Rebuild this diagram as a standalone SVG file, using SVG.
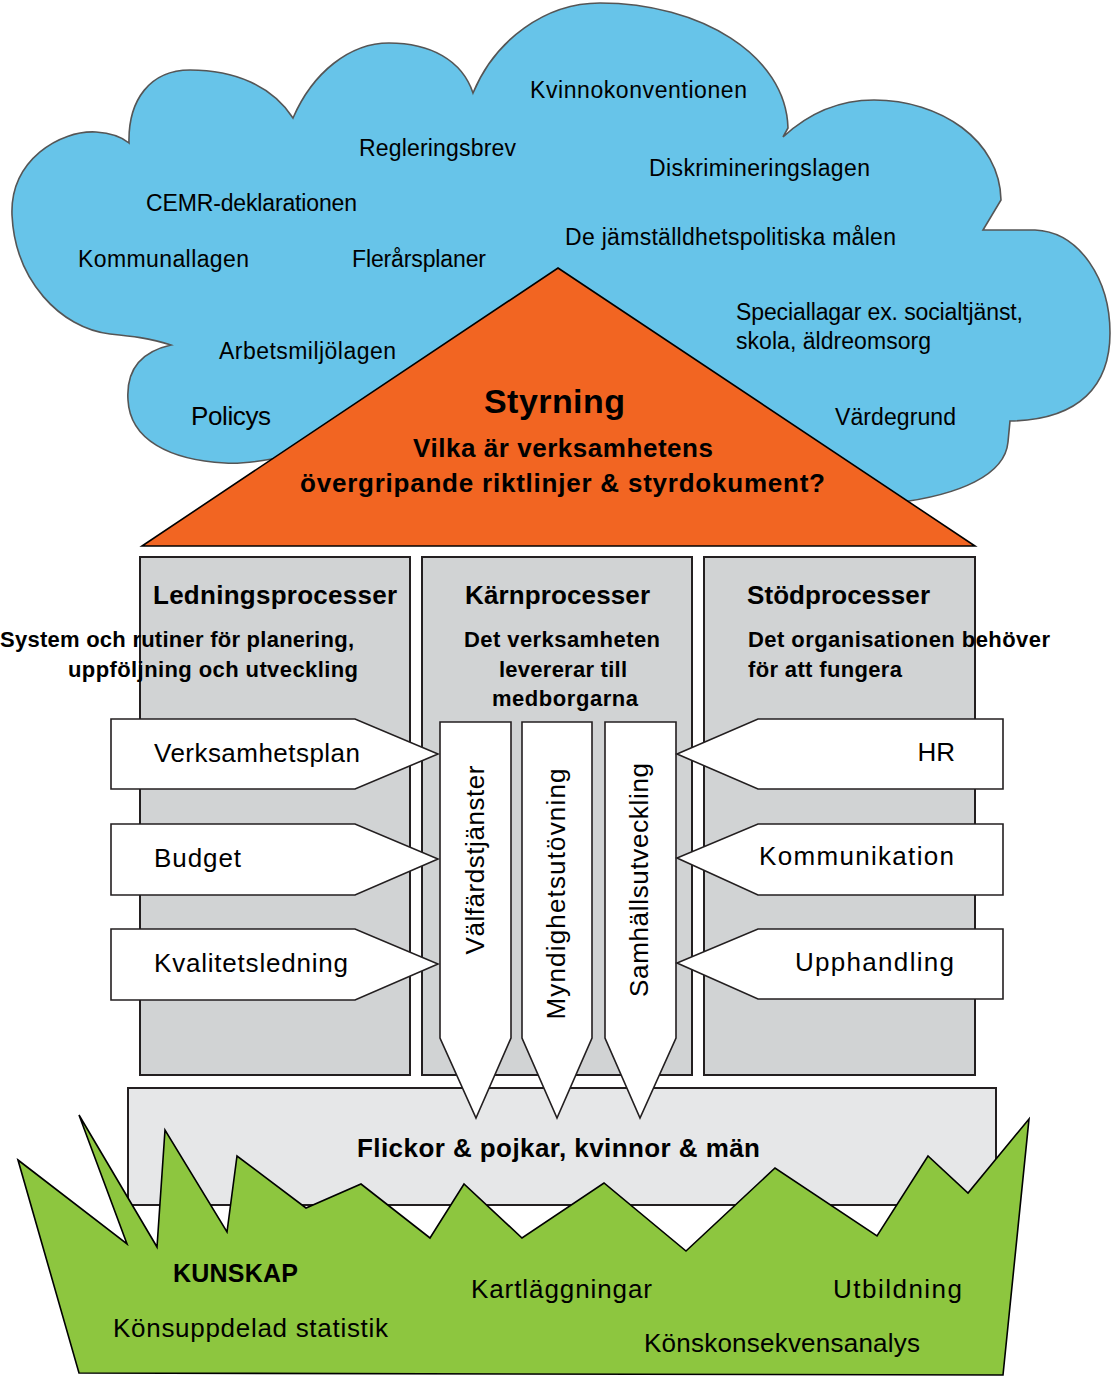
<svg xmlns="http://www.w3.org/2000/svg" width="1113" height="1376" viewBox="0 0 1113 1376">
<style>
text{font-family:"Liberation Sans",Arial,sans-serif;fill:#000}
.c{font-size:23px}
.b{font-weight:bold}
.lab{font-size:26px}
.sub{font-size:22px;font-weight:bold}
.hd{font-size:26px;font-weight:bold}
.col{fill:#D1D3D4;stroke:#231F20;stroke-width:2}
.arr{fill:#FFFFFF;stroke:#231F20;stroke-width:1.6;stroke-linejoin:miter}
</style>
<rect width="1113" height="1376" fill="#FFFFFF"/>
<g id="cloud">
<path d="M129,143 C128,100 150,70 190,70 C235,70 272,86 293,118 C313,72 350,43 389,43 C430,43 462,60 473,93 C495,40 545,3 600,3 C700,3 786,55 788,128 L783,137 C810,112 840,100 874,100 C940,100 1000,140 1001,200 L983,230 L1035,230 C1080,232 1110,280 1110,333 C1110,385 1080,420 1010,421 L1008,442 C1005,475 960,495 895,503 L600,480 L272,459 C255,462 240,464 225,463 C170,460 130,440 128,400 C126,370 140,352 171,345 C150,338 130,336 110,334 C60,328 15,280 12,215 C10,160 60,130 96,132 C110,133 122,137 129,143 Z" fill="#67C4E9" stroke="#555555" stroke-width="1.6"/>
<text class="c" x="530" y="98" textLength="217">Kvinnokonventionen</text>
<text class="c" x="359" y="156" textLength="157">Regleringsbrev</text>
<text class="c" x="649" y="176" textLength="221">Diskrimineringslagen</text>
<text class="c" x="146" y="211" textLength="211">CEMR-deklarationen</text>
<text class="c" x="565" y="245" textLength="331">De jämställdhetspolitiska målen</text>
<text class="c" x="78" y="267" textLength="171">Kommunallagen</text>
<text class="c" x="352" y="267" textLength="134">Flerårsplaner</text>
<text class="c" x="736" y="320" textLength="287">Speciallagar ex. socialtjänst,</text>
<text class="c" x="736" y="349" textLength="195">skola, äldreomsorg</text>
<text class="c" x="219" y="359" textLength="177">Arbetsmiljölagen</text>
<text class="lab" x="191" y="425" textLength="80">Policys</text>
<text class="c" x="835" y="425" textLength="121">Värdegrund</text>
</g>
<g id="styrning">
<polygon points="558,268 975,546 142,546" fill="#F26522" stroke="#000" stroke-width="1.6"/>
<text class="b" x="484" y="413" font-size="34" textLength="141">Styrning</text>
<text class="b" x="413" y="457" font-size="26" textLength="300">Vilka är verksamhetens</text>
<text class="b" x="300" y="492" font-size="26" textLength="525">övergripande riktlinjer &amp; styrdokument?</text>
</g>
<g id="ledningsprocesser">
<rect class="col" x="140" y="557" width="270" height="518"/>
<text class="hd" x="153" y="604" textLength="244">Ledningsprocesser</text>
<text class="sub" x="0" y="647" textLength="354">System och rutiner för planering,</text>
<text class="sub" x="68" y="677" textLength="290">uppföljning och utveckling</text>
</g>
<g id="karnprocesser">
<rect class="col" x="422" y="557" width="270" height="518"/>
<text class="hd" x="465" y="604" textLength="185">Kärnprocesser</text>
<text class="sub" x="464" y="647" textLength="196">Det verksamheten</text>
<text class="sub" x="499" y="677" textLength="128">levererar till</text>
<text class="sub" x="492" y="706" textLength="146">medborgarna</text>
</g>
<g id="stodprocesser">
<rect class="col" x="704" y="557" width="271" height="518"/>
<text class="hd" x="747" y="604" textLength="183">Stödprocesser</text>
<text class="sub" x="748" y="647" textLength="302">Det organisationen behöver</text>
<text class="sub" x="748" y="677" textLength="154">för att fungera</text>
</g>
<g id="medborgare">
<rect x="128" y="1088" width="868" height="117" fill="#E6E7E8" stroke="#231F20" stroke-width="2"/>
<text class="b" x="357" y="1157" font-size="26" textLength="403">Flickor &amp; pojkar, kvinnor &amp; män</text>
</g>
<g id="valfardstjanster">
<polygon class="arr" points="440,722 511,722 511,1038 476,1118 440,1038"/>
<text class="lab" transform="translate(484,860) rotate(-90)" text-anchor="middle" textLength="189">Välfärdstjänster</text>
</g>
<g id="myndighetsutovning">
<polygon class="arr" points="522,722 592,722 592,1038 557,1118 522,1038"/>
<text class="lab" transform="translate(565,894) rotate(-90)" text-anchor="middle" textLength="251">Myndighetsutövning</text>
</g>
<g id="samhallsutveckling">
<polygon class="arr" points="605,722 676,722 676,1038 640,1118 605,1038"/>
<text class="lab" transform="translate(648,880) rotate(-90)" text-anchor="middle" textLength="234">Samhällsutveckling</text>
</g>
<g id="verksamhetsplan">
<polygon class="arr" points="111,719 355,719 438,754 355,789 111,789"/>
<text class="lab" x="154" y="762" textLength="206">Verksamhetsplan</text>
</g>
<g id="budget">
<polygon class="arr" points="111,824 355,824 438,859 355,895 111,895"/>
<text class="lab" x="154" y="867" textLength="87">Budget</text>
</g>
<g id="kvalitetsledning">
<polygon class="arr" points="111,929 355,929 438,964 355,1000 111,1000"/>
<text class="lab" x="154" y="972" textLength="194">Kvalitetsledning</text>
</g>
<g id="hr">
<polygon class="arr" points="1003,719 758,719 677,754 758,789 1003,789"/>
<text class="lab" x="955" y="761" text-anchor="end">HR</text>
</g>
<g id="kommunikation">
<polygon class="arr" points="1003,824 758,824 677,858 758,895 1003,895"/>
<text class="lab" x="759" y="865" textLength="195">Kommunikation</text>
</g>
<g id="upphandling">
<polygon class="arr" points="1003,929 758,929 677,963 758,999 1003,999"/>
<text class="lab" x="795" y="971" textLength="159">Upphandling</text>
</g>
<g id="kunskap">
<polygon points="18,1160 127,1244 79,1115 157,1247 165,1130 227,1232 237,1156 306,1208 361,1184 430,1238 464,1184 522,1238 604,1183 686,1251 775,1168 877,1236 928,1156 968,1193 1029,1119 1003,1375 79,1373" fill="#8DC63F" stroke="#000" stroke-width="1.6" stroke-linejoin="miter"/>
<text class="b" x="173" y="1282" font-size="25" textLength="125">KUNSKAP</text>
<text class="lab" x="113" y="1337" textLength="275">Könsuppdelad statistik</text>
<text class="lab" x="471" y="1298" textLength="181">Kartläggningar</text>
<text class="lab" x="833" y="1298" textLength="129">Utbildning</text>
<text class="lab" x="644" y="1352" textLength="276">Könskonsekvensanalys</text>
</g>
</svg>
